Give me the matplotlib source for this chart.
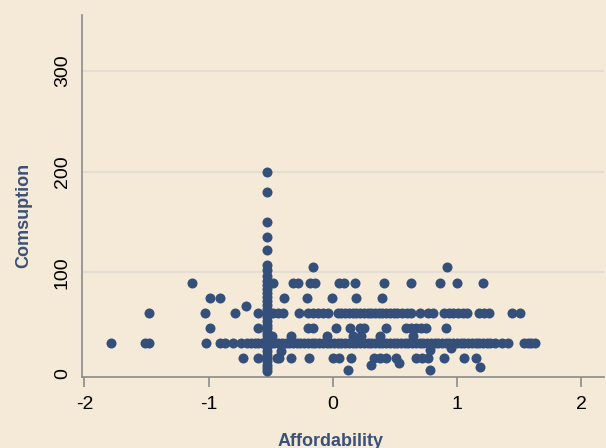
import numpy as np
import matplotlib
matplotlib.use("Agg")
import matplotlib.pyplot as plt

# points, grouped by consumption level
col_x = -0.53
col_y = [200, 180, 150, 135, 122, 107, 102, 97, 92, 88, 84, 80, 76, 72, 68, 64, 60,
         56, 52, 48, 45, 41, 38, 34, 30, 26, 22, 18, 15, 12, 8, 5, 2]

row30_x = [-1.79, -1.51, -1.48, -1.02, -0.91, -0.87, -0.80, -0.74, -0.69, -0.66, -0.63,
           -0.60, -0.57, -0.50, -0.47, -0.44, -0.41, -0.38, -0.35, -0.32, -0.29, -0.26,
           -0.23, -0.20, -0.17, -0.14, -0.11, -0.08, -0.05, -0.02, 0.01, 0.04, 0.07, 0.10,
           0.13, 0.16, 0.19, 0.22, 0.25, 0.28, 0.31, 0.34, 0.37, 0.40, 0.43, 0.46, 0.49,
           0.52, 0.55, 0.58, 0.61, 0.64, 0.67, 0.70, 0.73, 0.76, 0.79, 0.82, 0.85, 0.88,
           0.91, 0.94, 0.97, 1.00, 1.03, 1.06, 1.09, 1.12, 1.15, 1.18, 1.21, 1.24, 1.27,
           1.31, 1.36, 1.41, 1.54, 1.57, 1.60, 1.63]
row60_x = [-1.48, -1.03, -0.79, -0.60, -0.48, -0.44, -0.40, -0.27, -0.20, -0.16, -0.12,
           -0.08, -0.04, 0.04, 0.07, 0.10, 0.13, 0.16, 0.19, 0.22, 0.25, 0.28, 0.31, 0.34,
           0.37, 0.40, 0.43, 0.46, 0.49, 0.52, 0.56, 0.60, 0.63, 0.70, 0.77, 0.81, 0.90,
           0.94, 0.97, 1.01, 1.05, 1.08, 1.18, 1.22, 1.26, 1.44, 1.51]
row90_x = [-1.13, -0.48, -0.32, -0.28, -0.185, -0.145, 0.05, 0.09, 0.18, 0.41, 0.63,
           0.86, 1.00, 1.21]
row105_x = [-0.16, 0.92]
row75_x = [-0.99, -0.91, -0.39, -0.21, -0.01, 0.19, 0.40]
row67_x = [-0.70]
row45_x = [-0.99, -0.60, -0.20, -0.16, 0.03, 0.14, 0.22, 0.25, 0.43, 0.59, 0.63, 0.67,
           0.71, 0.75, 0.91]
row38_x = [-0.49, -0.34, -0.05, 0.16, 0.23, 0.38, 0.65]
row15_x = [-0.72, -0.60, -0.45, -0.43, -0.34, -0.19, 0.00, 0.05, 0.15, 0.33, 0.38, 0.43,
           0.51, 0.67, 0.72, 0.77, 0.90, 1.06, 1.15]
other_x = [-0.42, 0.78, 0.95, 0.12, 0.31, 0.53, 0.78, 1.19]
other_y = [22, 23, 25, 3, 8, 10, 3, 6]

x = ([col_x] * len(col_y) + row30_x + row60_x + row90_x + row105_x + row75_x + row67_x
     + row45_x + row38_x + row15_x + other_x)
y = (col_y + [30] * len(row30_x) + [60] * len(row60_x) + [90] * len(row90_x)
     + [105] * len(row105_x) + [75] * len(row75_x) + [67] * len(row67_x)
     + [45] * len(row45_x) + [37] * len(row38_x) + [15] * len(row15_x) + other_y)

bg = '#F5E9D7'
blue = '#34507A'
plt.rcParams['font.family'] = ['Liberation Sans', 'DejaVu Sans']
plt.rcParams['axes.unicode_minus'] = False

fig = plt.figure(figsize=(6.06, 4.48), dpi=100, facecolor=bg)
ax = fig.add_axes([0.1353, 0.1585, 0.8614, 0.808], facecolor=bg)
ax.scatter(x, y, s=52, color=blue, linewidths=0, zorder=3)

ax.set_xlim(-2.02, 2.185)
ax.set_ylim(-3.5, 355)
ax.set_xticks([-2, -1, 0, 1, 2])
ax.set_yticks([0, 100, 200, 300])
for g in [100, 200, 300]:
    ax.axhline(g, color='#E3DDD4', lw=1.5, zorder=1)

for s in ['top', 'right']:
    ax.spines[s].set_visible(False)
for s in ['left', 'bottom']:
    ax.spines[s].set_color('#8C8C8C')
    ax.spines[s].set_linewidth(1.2)

ax.tick_params(axis='x', length=7, width=1.2, color='#8C8C8C', pad=7, labelsize=14)
ax.tick_params(axis='y', length=0, pad=8, labelsize=14)
for lab in ax.get_yticklabels():
    lab.set_rotation(90)
    lab.set_va('center')

ax.set_ylabel('Comsuption', fontsize=13, fontweight='bold', color='#3A5179')
ax.yaxis.set_label_coords(-0.095, 0.4475)
ax.set_xlabel('Affordability', fontsize=13, fontweight='bold', color='#3A5179')
ax.xaxis.set_label_coords(0.477, -0.155)

fig.savefig('out.png', dpi=100, facecolor=bg)
